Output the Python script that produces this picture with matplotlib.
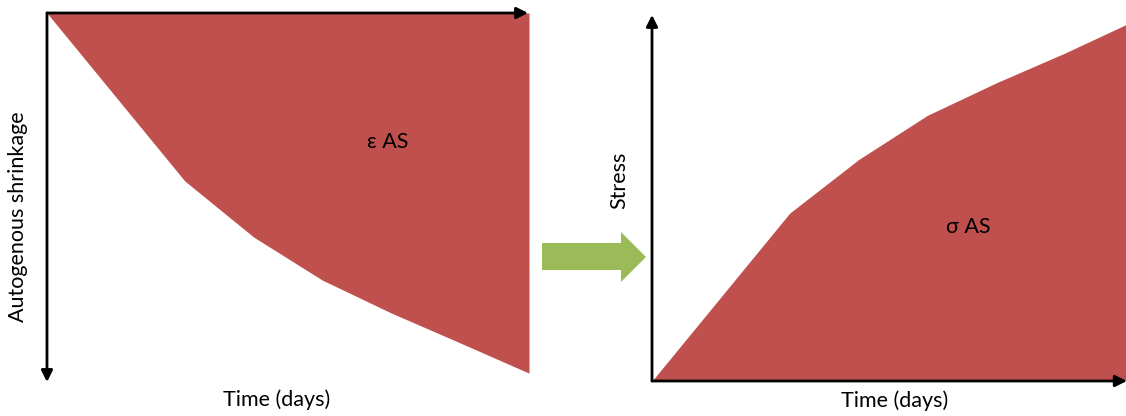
#Autogenous shrinkage -> stress, two schematic area charts
import matplotlib.pyplot as plt
from matplotlib.patches import Polygon

days = [0, 2, 3, 4, 5, 6, 7]
shrinkage = [0, 45.5, 60.7, 72.4, 81.3, 89.4, 97.6]
stress = [0, 45.5, 60.0, 72.0, 80.8, 88.9, 97.6]

red = '#C0504D'
green = '#9BBB59'
W, H = 1126, 416
fs = 15.5
plt.rcParams['font.family'] = ['Lato', 'DejaVu Sans']

fig = plt.figure(figsize=(W / 100, H / 100), dpi=100)


def box(x0, y_top, w, h):
    return [x0 / W, (H - y_top - h) / H, w / W, h / H]


def arrow(ax, start, end):
    ax.annotate('', xy=end, xytext=start, xycoords='axes fraction',
                textcoords='axes fraction', annotation_clip=False,
                arrowprops=dict(arrowstyle='-|>', color='black', lw=2,
                                mutation_scale=17, shrinkA=0, shrinkB=0))


# left: shrinkage grows downwards
ax1 = fig.add_axes(box(47, 13, 482, 369))
ax1.fill_between(days, shrinkage, 0, color=red, lw=0)
ax1.set_xlim(0, 7)
ax1.set_ylim(100, 0)
ax1.axis('off')
arrow(ax1, (0, 1), (0.998, 1))
arrow(ax1, (0, 1), (0, 0))
ax1.text(4.95, 35, 'ε AS', fontsize=fs, ha='center', va='center')

# right: stress
ax2 = fig.add_axes(box(652, 12, 482, 369))
ax2.fill_between(days, stress, 0, color=red, lw=0)
ax2.set_xlim(0, 7)
ax2.set_ylim(0, 100)
ax2.axis('off')
arrow(ax2, (0, 0), (0, 0.992))
arrow(ax2, (0, 0), (0.985, 0))
ax2.text(4.59, 41.7, 'σ AS', fontsize=fs, ha='center', va='center')

# labels
fig.text(277 / W, 1 - 400 / H, 'Time (days)', fontsize=fs, ha='center', va='center')
fig.text(895 / W, 1 - 401 / H, 'Time (days)', fontsize=fs, ha='center', va='center')
fig.text(18 / W, 1 - 217 / H, 'Autogenous shrinkage', fontsize=fs,
         rotation=90, ha='center', va='center')
fig.text(619 / W, 1 - 180 / H, 'Stress', fontsize=fs,
         rotation=90, ha='center', va='center')

# green block arrow between the panels
over = fig.add_axes([0, 0, 1, 1], zorder=-1)
over.set_xlim(0, W)
over.set_ylim(H, 0)
over.axis('off')
over.add_patch(Polygon([(542, 243), (621, 243), (621, 232), (646, 257),
                        (621, 282), (621, 270), (542, 270)],
                       closed=True, color=green, lw=0))

fig.savefig('out.png', dpi=100)
